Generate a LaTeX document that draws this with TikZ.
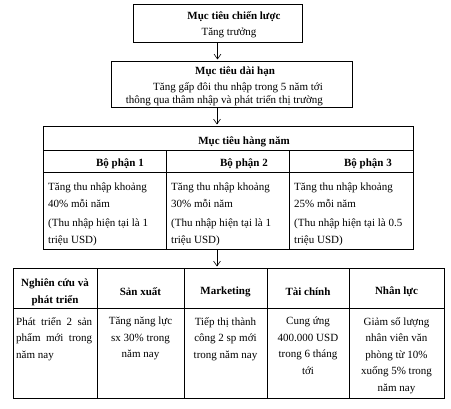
\documentclass[tikz,border=0pt]{standalone}
\usepackage{fontspec}
\setmainfont{Liberation Serif}
\usetikzlibrary{arrows.meta,calc}
\definecolor{khung}{HTML}{000000}
\tikzset{
  hop/.style={draw=khung,line width=1pt,inner sep=0pt},
  ke/.style={khung,line width=1pt},
  muiten/.style={-{Straight Barb[length=1.7mm,width=2.4mm]},khung,line width=0.6pt,shorten >=2pt},
  tieude/.style={font=\fontsize{11}{17}\selectfont\bfseries,inner sep=0pt},
  chu/.style={font=\fontsize{11}{16.5}\selectfont,inner sep=0pt},
}

\begin{document}
\begin{tikzpicture}[x=1pt,y=-1pt]
  \useasboundingbox (0,0) rectangle (451,409);
  % muc tieu chien luoc
  \node[hop,minimum width=169pt,minimum height=38pt] (chienluoc) at (217.5,24) {};
  \node[tieude] (chienluoc-t) at (234,17) {Mục tiêu chiến lược};
  \node[chu] (chienluoc-n) at (229,33) {Tăng trưởng};
  % muc tieu dai han
  \node[hop,minimum width=241pt,minimum height=46pt] (daihan) at (231.5,85) {};
  \node[tieude] (daihan-t) at (235,72) {Mục tiêu dài hạn};
  \node[chu,align=right,anchor=east,font=\fontsize{11}{12.5}\selectfont] (daihan-n) at (323,94)
    {Tăng gấp đôi thu nhập trong 5 năm tới\\thông qua thâm nhập và phát triển thị trường};
  % muc tieu hang nam
  \node[hop,minimum width=370pt,minimum height=123pt] (hangnam) at (228,188.5) {};
  \draw[ke] (43,151) -- (413,151) (43,173) -- (413,173);
  \draw[ke] (166,151) -- (166,250) (289,151) -- (289,250);
  \node[tieude] (hangnam-t) at (244,142) {Mục tiêu hàng năm};
  \foreach \i/\xt/\xl/\pt/\tn in {1/120/48/40/1, 2/244/171/30/1, 3/368/294/25/0.5}{
    \node[tieude] (bophan\i) at (\xt,164) {Bộ phận \i};
    \node[chu,align=left,anchor=north west] (bophan\i-n) at (\xl,183)
      {Tăng thu nhập khoảng\\\pt\% mỗi năm\\[3pt](Thu nhập hiện tại là \tn\\triệu USD)};
  }
  % cac bo phan chuc nang
  \node[hop,minimum width=431pt,minimum height=130pt] (chucnang) at (228.5,334) {};
  \draw[ke] (13,309) -- (444,309);
  \foreach \x in {97,184,267,349} \draw[ke] (\x,269) -- (\x,399);
  \foreach \i/\x/\t in {1/55/{Nghiên cứu và\\phát triển}, 2/140.5/Sản xuất, 3/225.5/Marketing, 4/308/Tài chính, 5/396.5/Nhân lực}
    \node[tieude,align=center] (chucnang\i) at (\x,292) {\t};
  \node[chu,align=left,anchor=north west] (chucnang1-n) at (16,317)
    {\makebox[76pt][s]{Phát triển 2 sản}\\\makebox[76pt][s]{phẩm mới trong}\\năm nay};
  \foreach \i/\x/\t in {2/140.5/{Tăng năng lực\\sx 30\% trong\\năm nay}, 3/225.5/{Tiếp thị thành\\công 2 sp mới\\trong năm nay}, 4/308/{Cung ứng\\400.000 USD\\trong 6 tháng\\tới}, 5/396.5/{Giảm số lượng\\nhân viên văn\\phòng từ 10\%\\xuống 5\% trong\\năm nay}}
    \node[chu,align=center,anchor=north] (chucnang\i-n) at (\x,317) {\t};
  % mui ten
  \coordinate (truc) at (217,0);
  \draw[muiten] (chienluoc.south) -- (chienluoc.south |- daihan.north);
  \draw[muiten] (truc |- daihan.south) -- (truc |- hangnam.north);
  \draw[muiten] (truc |- hangnam.south) -- (truc |- chucnang.north);
\end{tikzpicture}
\end{document}
